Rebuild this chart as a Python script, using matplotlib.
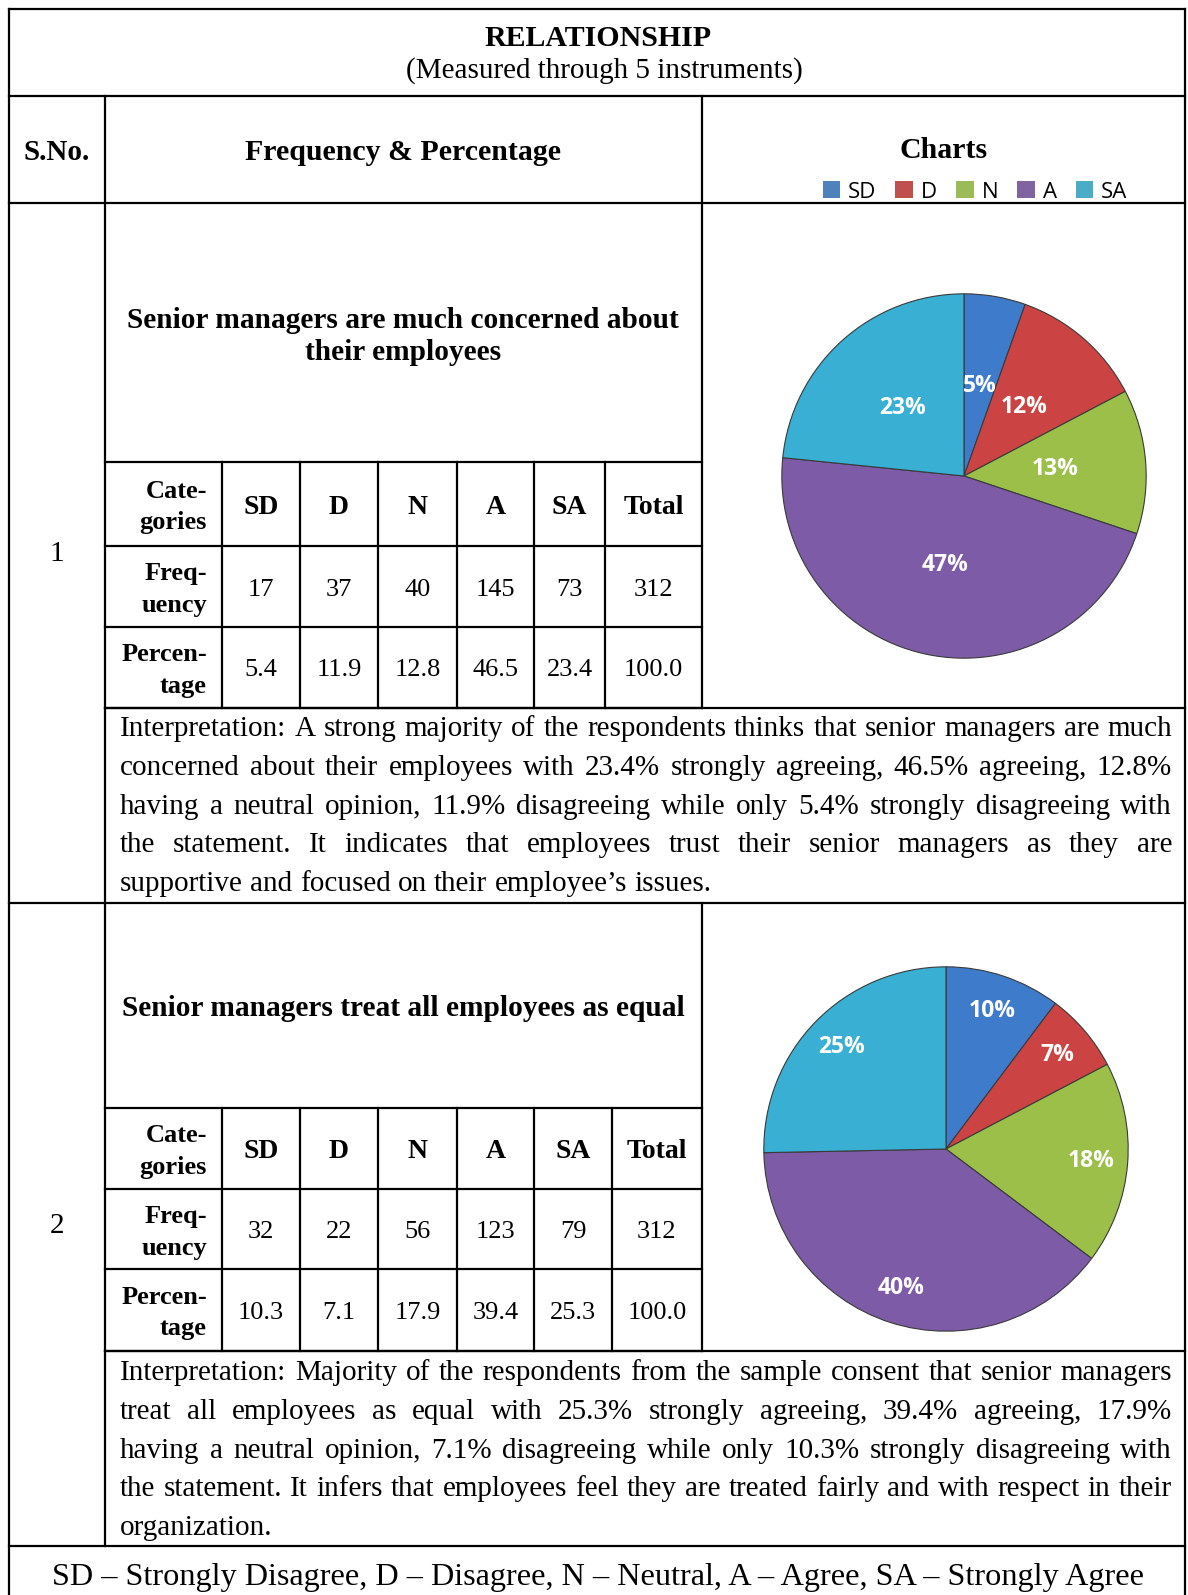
import matplotlib.pyplot as plt
from matplotlib.patches import Patch

W, H = 1188, 1595
SERIF = "Liberation Serif"
SANS = "Open Sans"

categories = ["SD", "D", "N", "A", "SA"]
legend_colors = ["#4f81bd", "#c0504d", "#9bbb59", "#8064a2", "#4bacc6"]
wedge_colors = ["#3e7ccb", "#cc4343", "#9bbf48", "#7e5ba7", "#38afd3"]

freq_1 = [17, 37, 40, 145, 73]
pct_1 = [5.4, 11.9, 12.8, 46.5, 23.4]
freq_2 = [32, 22, 56, 123, 79]
pct_2 = [10.3, 7.1, 17.9, 39.4, 25.3]

statement_1 = "Senior managers are much concerned about\ntheir employees"
statement_2 = "Senior managers treat all employees as equal"

interp_1 = [
    "Interpretation: A strong majority of the respondents thinks that senior managers are much",
    "concerned about their employees with 23.4% strongly agreeing, 46.5% agreeing, 12.8%",
    "having a neutral opinion, 11.9% disagreeing while only 5.4% strongly disagreeing with",
    "the statement. It indicates that employees trust their senior managers as they are",
    "supportive and focused on their employee\u2019s issues.",
]
interp_2 = [
    "Interpretation: Majority of the respondents from the sample consent that senior managers",
    "treat all employees as equal with 25.3% strongly agreeing, 39.4% agreeing, 17.9%",
    "having a neutral opinion, 7.1% disagreeing while only 10.3% strongly disagreeing with",
    "the statement. It infers that employees feel they are treated fairly and with respect in their",
    "organization.",
]

footer = ("SD \u2013 Strongly Disagree, D \u2013 Disagree, N \u2013 Neutral, "
          "A \u2013 Agree, SA \u2013 Strongly Agree")


def pie_labels(freq):
    # whole-number percentages that add up to 100 (largest remainder)
    total = sum(freq)
    raw = [f * 100 / total for f in freq]
    out = [int(r) for r in raw]
    order = sorted(range(len(raw)), key=lambda i: raw[i] - out[i], reverse=True)
    for i in order[:100 - sum(out)]:
        out[i] += 1
    return out


fig = plt.figure(figsize=(W / 100, H / 100), dpi=100)
ax = fig.add_axes([0, 0, 1, 1])
ax.set_xlim(0, W)
ax.set_ylim(H, 0)
ax.axis("off")
renderer = fig.canvas.get_renderer()

LW = 1.6


def hline(y, x0, x1):
    ax.plot([x0, x1], [y, y], color="black", lw=LW, solid_capstyle="projecting")


def vline(x, y0, y1):
    ax.plot([x, x], [y0, y1], color="black", lw=LW, solid_capstyle="projecting")


def txt(x, y, s, size=21, bold=False, ha="center", family=SERIF, color="black"):
    return ax.text(x, y, s, fontsize=size, fontweight="bold" if bold else "normal",
                   ha=ha, va="center", family=family, color=color)


def justified(lines, x0, x1, y0, dy, size=21):
    space = size * 100 / 72 * 0.25
    for i, line in enumerate(lines):
        y = y0 + i * dy
        words = line.split()
        texts = [ax.text(0, y, w, fontsize=size, family=SERIF, ha="left",
                         va="baseline") for w in words]
        widths = [t.get_window_extent(renderer).width for t in texts]
        if i == len(lines) - 1 or len(words) < 2:
            gap = space
        else:
            gap = (x1 - x0 - sum(widths)) / (len(words) - 1)
        x = x0
        for t, w in zip(texts, widths):
            t.set_x(x)
            x += w + gap


# outer frame and header rows
L, R, C1, C2 = 9, 1185, 105, 702
hline(9, L, R)
hline(96, L, R)
hline(203, L, R)
vline(L, 9, H + 5)
vline(R, 9, H + 5)
vline(C1, 96, 1546)
vline(C2, 96, 708)
vline(C2, 903, 1351)
hline(708, C1, R)
hline(903, L, R)
hline(1351, C1, R)
hline(1546, L, R)

txt(598, 38, "RELATIONSHIP", size=21.5, bold=True)
txt(604, 71, "(Measured through 5 instruments)", size=21)
txt(57, 153, "S.No.", size=21, bold=True)
txt(403, 153, "Frequency & Percentage", size=21.5, bold=True)
txt(944, 150, "Charts", size=21.5, bold=True)

handles = [Patch(facecolor=c, edgecolor="none") for c in legend_colors]
fig.legend(handles, categories, loc="center", bbox_to_anchor=(975 / W, 1 - 192 / H),
           ncol=5, frameon=False, handlelength=0.8, handleheight=0.8,
           columnspacing=0.85, handletextpad=0.35,
           prop={"family": SANS, "size": 16})


def block(num, statement, stmt_y, freq, pct, rows, cols, interp, interp_y,
          block_mid, pie_c, pie_r, pct_dist):
    y_top = rows[0]
    txt(57, block_mid, num, size=21)
    stmt_lines = statement.split("\n")
    for k, s in enumerate(stmt_lines):
        txt(403, stmt_y + k * 33, s, size=21.2, bold=True)

    # frequency / percentage table
    for y in rows:
        hline(y, C1, C2)
    for x in cols[1:-1]:
        vline(x, y_top, rows[-1])
    row_heads = [("Cate-", "gories"), ("Freq-", "uency"), ("Percen-", "tage")]
    total = sum(freq)
    row_vals = [
        categories + ["Total"],
        [str(f) for f in freq] + [str(total)],
        ["%.1f" % p for p in pct] + ["%.1f" % sum(pct)],
    ]
    for r in range(3):
        yc = (rows[r] + rows[r + 1]) / 2 + 3
        txt(cols[1] - 15, yc - 16, row_heads[r][0], size=19, bold=True, ha="right")
        txt(cols[1] - 15, yc + 16, row_heads[r][1], size=19, bold=True, ha="right")
        for c, v in enumerate(row_vals[r]):
            xc = (cols[c + 1] + cols[c + 2]) / 2
            txt(xc, yc, v, size=20 if r == 0 else 19, bold=(r == 0))

    justified(interp, 120, 1172, interp_y, 38.8)

    # pie chart
    cx, cy = pie_c
    pax = fig.add_axes([(cx - pie_r) / W, 1 - (cy + pie_r) / H, 2 * pie_r / W, 2 * pie_r / H])
    labels = pie_labels(freq)
    wedges, texts = pax.pie(freq, colors=wedge_colors, startangle=90, counterclock=False,
                            labels=["%d%%" % p for p in labels], labeldistance=pct_dist,
                            wedgeprops={"edgecolor": "#3a3a3a", "linewidth": 0.8},
                            textprops={"color": "white", "fontweight": "bold",
                                       "family": SANS, "fontsize": 16.5,
                                       "ha": "center", "va": "center"})
    for t in texts:
        t.set_ha("center")
    pax.set_xlim(-1.01, 1.01)
    pax.set_ylim(-1.01, 1.01)
    pax.set_aspect("equal")
    pax.axis("off")


block("1", statement_1, 320, freq_1, pct_1, [462, 546, 627, 708],
      [105, 222, 300, 378, 457, 534, 605, 702],
      interp_1, 736, 554, (964, 476), 184, 0.5)
block("2", statement_2, 1009, freq_2, pct_2, [1108, 1189, 1269, 1351],
      [105, 222, 300, 378, 457, 534, 612, 702],
      interp_2, 1380, 1226, (946, 1149), 184, 0.8)

txt(598, 1577, footer, size=23.2)

fig.savefig("out.png", dpi=100)
